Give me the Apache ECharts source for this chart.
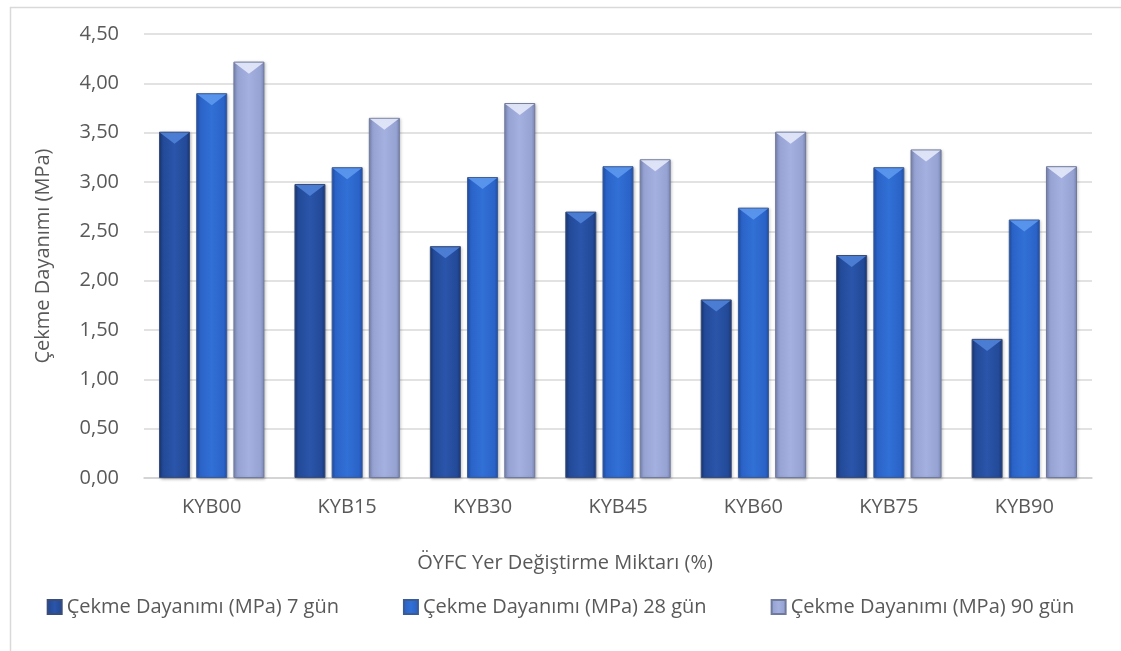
<!DOCTYPE html>
<html>
<head>
<meta charset="utf-8">
<script src="https://cdn.jsdelivr.net/npm/echarts@6/dist/echarts.min.js"></script>
<style>
html,body{margin:0;padding:0;background:#fff;}
#chart{width:1121px;height:651px;}
</style>
</head>
<body>
<div id="chart"></div>
<script>
const categories = ['KYB00','KYB15','KYB30','KYB45','KYB60','KYB75','KYB90'];
const seriesNames = ['Çekme Dayanımı (MPa) 7 gün','Çekme Dayanımı (MPa) 28 gün','Çekme Dayanımı (MPa) 90 gün'];
const values7 = [3.51, 2.98, 2.35, 2.70, 1.81, 2.26, 1.41];
const values28 = [3.90, 3.15, 3.05, 3.16, 2.74, 3.15, 2.62];
const values90 = [4.22, 3.65, 3.80, 3.23, 3.51, 3.33, 3.16];
const yTickLabels = ['0,00','0,50','1,00','1,50','2,00','2,50','3,00','3,50','4,00','4,50'];
const xAxisTitle = 'ÖYFC Yer Değiştirme Miktarı (%)';
const yAxisTitle = 'Çekme Dayanımı (MPa)';

const FONT = 'Open Sans';
const FS = 20;
const TXT = '#595959';

function hGrad(edge, mid, light){
  return {type:'linear',x:0,y:0,x2:1,y2:0,colorStops:[
    {offset:0,color:edge},{offset:0.12,color:mid},{offset:0.5,color:light},{offset:0.88,color:mid},{offset:1,color:edge}]};
}
const styles = [
  {fill: hGrad('#1a3675','#234a98','#2a55aa'), bevel:'#4f82d8', border:'#3a4d78'},
  {fill: hGrad('#2151ad','#2b63c8','#3170d6'), bevel:'#5d98ee', border:'#3b5b96'},
  {fill: hGrad('#7d88b6','#95a2d2','#a4b1e0'), bevel:'#e4e9fa', border:'#707a9c'}
];
const data = [values7, values28, values90];

const BW = 31, GAP = '20%';
const series = [];
data.forEach((vals,i)=>{
  series.push({
    name: seriesNames[i], type:'bar', data: vals, barWidth: BW, barGap: GAP,
    itemStyle:{color: styles[i].fill, borderColor: styles[i].border, borderWidth: 1,
      shadowColor:'rgba(0,0,0,0.25)', shadowBlur:3, shadowOffsetX:1, shadowOffsetY:1},
    emphasis:{disabled:true}, z:2
  });
});
data.forEach((vals,i)=>{
  series.push({
    name: '_bevel'+i, type:'pictorialBar', data: vals, barWidth: BW, barGap: GAP,
    symbol:'path://M0,0 L10,0 L5,4 Z', symbolSize:[BW-2, 11], symbolPosition:'end',
    symbolOffset:[0, 1],
    itemStyle:{color: styles[i].bevel, opacity:0.9},
    emphasis:{disabled:true}, silent:true, z:3
  });
});

const chart = echarts.init(document.getElementById('chart'), null, {renderer:'canvas'});
chart.setOption({
  animation:false,
  backgroundColor:'#fff',
  textStyle:{fontFamily:FONT},
  grid:{left:144, right:29, top:34, bottom:173, containLabel:false},
  xAxis:{
    type:'category', data:categories,
    axisLine:{lineStyle:{color:'#d0d0d0', width:1.5}},
    axisTick:{show:false},
    axisLabel:{color:TXT, fontSize:FS, margin:19, fontFamily:FONT},
    splitLine:{show:false}
  },
  yAxis:{
    type:'value', min:0, max:4.5, interval:0.5,
    axisLine:{show:false}, axisTick:{show:false},
    axisLabel:{color:TXT, fontSize:FS, margin:25, fontFamily:FONT,
      formatter:(v)=>yTickLabels[Math.round(v/0.5)]},
    splitLine:{lineStyle:{color:'#d9d9d9', width:1.5}}
  },
  legend:{
    data: seriesNames, top:592, left:'center', itemGap:64,
    itemWidth:14, itemHeight:14, icon:'rect',
    textStyle:{color:TXT, fontSize:FS, fontFamily:FONT},
    selectedMode:false
  },
  graphic:[
    {type:'rect', left:8, top:5, shape:{width:1112, height:700}, style:{fill:'none', stroke:'#d9d9d9', lineWidth:1.5}, silent:true},
    {type:'text', x:565, y:563, style:{text:xAxisTitle, fill:TXT, font:FS+'px "Open Sans"', textAlign:'center', textVerticalAlign:'middle'}},
    {type:'text', x:43, y:256, rotation:Math.PI/2, style:{text:yAxisTitle, fill:TXT, font:FS+'px "Open Sans"', textAlign:'center', textVerticalAlign:'middle'}}
  ],
  series: series
});
</script>
</body>
</html>
